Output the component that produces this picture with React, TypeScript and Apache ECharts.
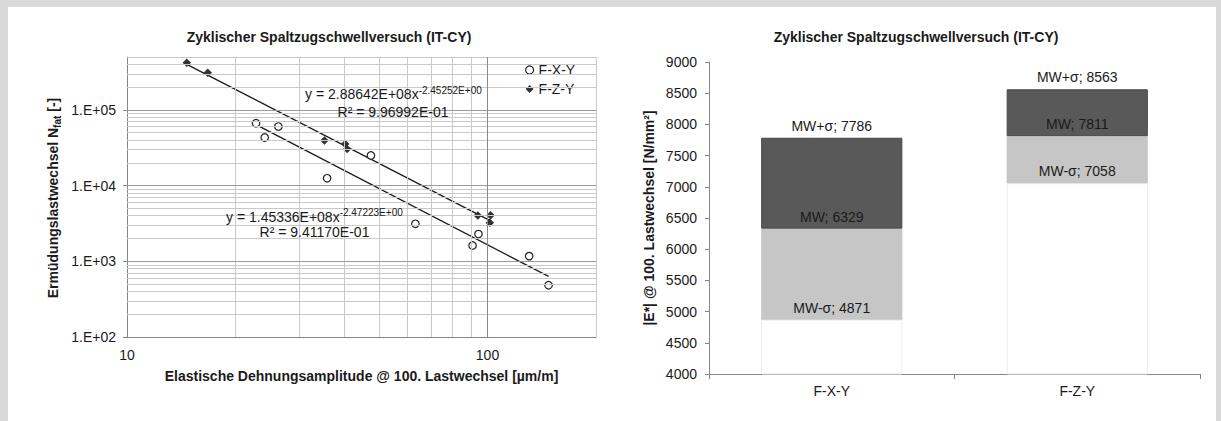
import React, { useEffect, useRef } from 'react';
import * as echarts from 'echarts';

const FONT = '"Liberation Sans", Arial, Helvetica, sans-serif';
const TXT = '#1a1a1a';
const AXIS = '#868686';

// ---------- Left chart: Wöhler line (log-log) ----------
const fxyStrain = [22.8, 24.1, 26.3, 35.9, 47.5, 63.1, 94.4, 90.9, 130.5, 147.7];
const fxyCycles = [66800, 43200, 60300, 12500, 25000, 3130, 2290, 1620, 1170, 483];
const fzyStrain = [14.65, 16.75, 35.3, 40.3, 40.8, 94.0, 102.0, 101.5];
const fzyCycles = [419000, 310000, 39500, 35400, 30400, 4030, 4060, 3230];

// power trend lines (end points of the fitted lines)
const fxyTrendX = [22.8, 147.7];
const fxyTrendY = [63800, 631];
const fzyTrendX = [14.65, 102.0];
const fzyTrendY = [399000, 3420];

const xTickValues = [10, 100];
const yTickValues = [100, 1000, 10000, 100000];
const xGridMinor = [20, 30, 40, 50, 60, 70, 80, 90, 200];
const xGridMajor = [100];
const yGridMajor = [1000, 10000, 100000];
const yGridMinor = [
  200, 300, 400, 500, 600, 700, 800, 900,
  2000, 3000, 4000, 5000, 6000, 7000, 8000, 9000,
  20000, 30000, 40000, 50000, 60000, 70000, 80000, 90000,
  200000, 300000, 400000, 500000,
];

// ---------- Right chart: stiffness bars ----------
const categories = ['F-X-Y', 'F-Z-Y'];
const mwMinusSigma = [4871, 7058];
const mwMean = [6329, 7811];
const mwPlusSigma = [7786, 8563];

const isPow10 = (v: number) => Math.abs(Math.log10(v) - Math.round(Math.log10(v))) < 1e-6;

function buildOption(): any {
  const zip = (a: number[], b: number[]) => a.map((v, i) => [v, b[i]]);
  const gridLines: any[] = [];
  yGridMinor.forEach((v) => gridLines.push({ yAxis: v, lineStyle: { color: '#c9c9c9', width: 1, type: 'solid' } }));
  xGridMinor.forEach((v) => gridLines.push({ xAxis: v, lineStyle: { color: '#c9c9c9', width: 1, type: 'solid' } }));
  yGridMajor.forEach((v) => gridLines.push({ yAxis: v, lineStyle: { color: '#9a9a9a', width: 1, type: 'solid' } }));
  xGridMajor.forEach((v) => gridLines.push({ xAxis: v, lineStyle: { color: '#8a8a8a', width: 1, type: 'solid' } }));

  const barLabel = (pos: string, prefix: string, arr: number[]) => ({
    show: true,
    position: pos,
    distance: 5,
    fontSize: 14,
    fontFamily: FONT,
    color: TXT,
    formatter: (p: any) => `${prefix}; ${arr[p.dataIndex]}`,
  });

  const titleStyle = { fontSize: 14, fontWeight: 'bold', fontFamily: FONT, fill: TXT, align: 'center', verticalAlign: 'middle' };
  const plainStyle = { fontSize: 14, fontFamily: FONT, fill: TXT };

  return {
    animation: false,
    backgroundColor: 'transparent',
    textStyle: { fontFamily: FONT },
    legend: {
      orient: 'vertical',
      left: 521,
      top: 57,
      itemWidth: 8,
      itemHeight: 8,
      itemGap: 5,
      padding: [6, 14, 6, 4],
      backgroundColor: '#fff',
      textStyle: { fontSize: 14, color: TXT, fontFamily: FONT },
      data: [
        { name: 'F-X-Y', icon: 'circle', itemStyle: { color: '#fff', borderColor: '#222', borderWidth: 1.2 } },
        { name: 'F-Z-Y', icon: 'diamond', itemStyle: { color: '#333', borderWidth: 0 } },
      ],
    },
    grid: [
      { left: 127, top: 57, width: 469, height: 280 },
      { left: 709, top: 62, width: 491, height: 312 },
    ],
    xAxis: [
      {
        gridIndex: 0,
        type: 'log',
        logBase: 10,
        min: 10,
        max: 200,
        axisLine: { show: true, onZero: false, lineStyle: { color: AXIS } },
        axisTick: { show: false },
        splitLine: { show: false },
        axisLabel: {
          customValues: xTickValues,
          margin: 11,
          fontSize: 14,
          color: TXT,
          fontFamily: FONT,
          formatter: (v: number) => (isPow10(v) ? String(Math.round(v)) : ''),
        },
      },
      {
        gridIndex: 1,
        type: 'category',
        data: categories,
        axisLine: { show: true, onZero: false, lineStyle: { color: AXIS } },
        axisTick: { show: true, length: 5, alignWithLabel: false, lineStyle: { color: AXIS } },
        splitLine: { show: false },
        axisLabel: { margin: 10, fontSize: 14, color: TXT, fontFamily: FONT },
      },
    ],
    yAxis: [
      {
        gridIndex: 0,
        type: 'log',
        logBase: 10,
        min: 100,
        max: 500000,
        axisLine: { show: true, onZero: false, lineStyle: { color: AXIS } },
        axisTick: { show: true, length: 4, customValues: yTickValues, lineStyle: { color: AXIS } },
        splitLine: { show: false },
        axisLabel: {
          customValues: yTickValues,
          margin: 11,
          fontSize: 14,
          color: TXT,
          fontFamily: FONT,
          formatter: (v: number) => (isPow10(v) ? '1.E+0' + Math.round(Math.log10(v)) : ''),
        },
      },
      {
        gridIndex: 1,
        type: 'value',
        min: 4000,
        max: 9000,
        interval: 500,
        axisLine: { show: true, onZero: false, lineStyle: { color: AXIS } },
        axisTick: { show: true, length: 4, lineStyle: { color: AXIS } },
        splitLine: { show: false },
        axisLabel: { margin: 12, fontSize: 14, color: TXT, fontFamily: FONT, formatter: (v: number) => String(v) },
      },
    ],
    series: [
      {
        type: 'line',
        xAxisIndex: 0,
        yAxisIndex: 0,
        data: [],
        z: 1,
        silent: true,
        markLine: {
          silent: true,
          symbol: ['none', 'none'],
          label: { show: false },
          emphasis: { disabled: true },
          animation: false,
          data: gridLines,
        },
      },
      {
        type: 'line',
        xAxisIndex: 0,
        yAxisIndex: 0,
        data: zip(fzyTrendX, fzyTrendY),
        showSymbol: false,
        symbol: 'none',
        lineStyle: { color: '#1a1a1a', width: 1.3 },
        z: 3,
        silent: true,
      },
      {
        type: 'line',
        xAxisIndex: 0,
        yAxisIndex: 0,
        data: zip(fxyTrendX, fxyTrendY),
        showSymbol: false,
        symbol: 'none',
        lineStyle: { color: '#1a1a1a', width: 1.3 },
        z: 3,
        silent: true,
      },
      {
        name: 'F-X-Y',
        type: 'scatter',
        xAxisIndex: 0,
        yAxisIndex: 0,
        symbol: 'circle',
        symbolSize: 7.5,
        itemStyle: { color: '#fff', borderColor: '#222', borderWidth: 1.2, opacity: 1 },
        data: zip(fxyStrain, fxyCycles),
        z: 4,
      },
      {
        name: 'F-Z-Y',
        type: 'scatter',
        xAxisIndex: 0,
        yAxisIndex: 0,
        symbol: 'rect',
        symbolRotate: 45,
        symbolSize: 6,
        itemStyle: { color: '#333', opacity: 1 },
        data: zip(fzyStrain, fzyCycles),
        z: 4,
      },
      {
        type: 'bar',
        xAxisIndex: 1,
        yAxisIndex: 1,
        stack: 'e',
        barWidth: '57.5%',
        itemStyle: { color: '#ffffff', borderColor: '#ececec', borderWidth: 1 },
        data: mwMinusSigma,
        silent: true,
      },
      {
        type: 'bar',
        xAxisIndex: 1,
        yAxisIndex: 1,
        stack: 'e',
        itemStyle: { color: '#c6c6c6' },
        label: barLabel('insideBottom', 'MW-σ', mwMinusSigma),
        data: mwMean.map((v, i) => v - mwMinusSigma[i]),
        silent: true,
      },
      {
        type: 'bar',
        xAxisIndex: 1,
        yAxisIndex: 1,
        stack: 'e',
        itemStyle: { color: '#595959', borderColor: '#474747', borderWidth: 1 },
        label: barLabel('insideBottom', 'MW', mwMean),
        data: mwPlusSigma.map((v, i) => v - mwMean[i]),
        silent: true,
      },
      {
        type: 'bar',
        xAxisIndex: 1,
        yAxisIndex: 1,
        stack: 'e',
        itemStyle: { color: 'transparent' },
        label: barLabel('top', 'MW+σ', mwPlusSigma),
        data: mwPlusSigma.map(() => 0),
        silent: true,
      },
    ],
    graphic: [
      { type: 'text', x: 329, y: 37, style: { ...titleStyle, text: 'Zyklischer Spaltzugschwellversuch (IT-CY)' } },
      { type: 'text', x: 916, y: 37, style: { ...titleStyle, text: 'Zyklischer Spaltzugschwellversuch (IT-CY)' } },
      { type: 'text', x: 361.5, y: 376, style: { ...titleStyle, text: 'Elastische Dehnungsamplitude @ 100. Lastwechsel [µm/m]' } },
      {
        type: 'text',
        x: 53,
        y: 198,
        rotation: Math.PI / 2,
        style: {
          text: '{a|Ermüdungslastwechsel N}{b|fat}{a| [-]}',
          align: 'center',
          verticalAlign: 'middle',
          fill: TXT,
          fontFamily: FONT,
          rich: {
            a: { fontSize: 14, fontWeight: 'bold', fontFamily: FONT, fill: TXT, lineHeight: 18, verticalAlign: 'middle' },
            b: { fontSize: 10, fontWeight: 'bold', fontFamily: FONT, fill: TXT, lineHeight: 12, verticalAlign: 'bottom' },
          },
        },
      },
      { type: 'text', x: 649, y: 218, rotation: Math.PI / 2, style: { ...titleStyle, text: '|E*| @ 100. Lastwechsel [N/mm²]' } },
      {
        type: 'text',
        x: 305,
        y: 94,
        z: 10,
        style: {
          text: '{n|y = 2.88642E+08x}{s|-2.45252E+00}',
          align: 'left',
          verticalAlign: 'middle',
          fill: TXT,
          rich: {
            n: { ...plainStyle, lineHeight: 18, verticalAlign: 'middle' },
            s: { fontSize: 10, fontFamily: FONT, fill: TXT, lineHeight: 12, verticalAlign: 'top' },
          },
        },
      },
      { type: 'text', x: 393, y: 112, z: 10, style: { ...plainStyle, text: 'R² = 9.96992E-01', align: 'center', verticalAlign: 'middle' } },
      {
        type: 'text',
        x: 226,
        y: 216.5,
        z: 10,
        style: {
          text: '{n|y = 1.45336E+08x}{s|-2.47223E+00}',
          align: 'left',
          verticalAlign: 'middle',
          fill: TXT,
          rich: {
            n: { ...plainStyle, lineHeight: 18, verticalAlign: 'middle' },
            s: { fontSize: 10, fontFamily: FONT, fill: TXT, lineHeight: 12, verticalAlign: 'top' },
          },
        },
      },
      { type: 'text', x: 314.5, y: 232, z: 10, style: { ...plainStyle, text: 'R² = 9.41170E-01', align: 'center', verticalAlign: 'middle' } },
    ],
  };
}

export default function App() {
  const ref = useRef<HTMLDivElement>(null);
  useEffect(() => {
    if (!ref.current) return;
    const chart = echarts.init(ref.current, null, { renderer: 'svg' });
    chart.setOption(buildOption());
    return () => chart.dispose();
  }, []);
  return (
    <div style={{ position: 'fixed', left: 0, top: 0, width: 1221, height: 421, background: '#d9d9d9', overflow: 'hidden' }}>
      <div style={{ position: 'absolute', left: 8, top: 7, width: 1208, height: 414, background: '#ffffff' }} />
      <div ref={ref} style={{ position: 'absolute', left: 0, top: 0, width: 1221, height: 421 }} />
    </div>
  );
}
